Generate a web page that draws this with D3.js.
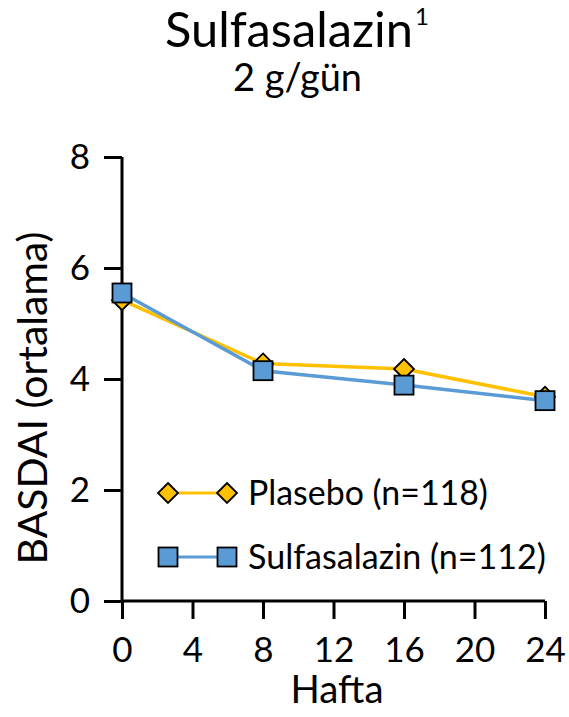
<!DOCTYPE html>
<html><head><meta charset="utf-8">
<script src="https://cdn.jsdelivr.net/npm/d3@7"></script>
<style>body{margin:0;background:#fff}svg{display:block}text{font-family:Lato,"Open Sans",sans-serif;fill:#000}</style>
</head><body>
<script>
const weeks = [0, 8, 16, 24];
const placebo = [5.42, 4.28, 4.18, 3.68];
const sulfasalazine = [5.55, 4.15, 3.89, 3.61];
const xTicks = [0, 4, 8, 12, 16, 20, 24];
const yTicks = [0, 2, 4, 6, 8];
const seriesNames = ["Plasebo (n=118)", "Sulfasalazin (n=112)"];
const title = "Sulfasalazin", titleSup = "1", subtitle = "2 g/gün";
const xLabel = "Hafta", yLabel = "BASDAI (ortalama)";

const W = 569, H = 717;
const svg = d3.select("body").append("svg").attr("width", W).attr("height", H);
const x = d3.scaleLinear().domain([0, 24]).range([122, 545]);
const y = d3.scaleLinear().domain([0, 8]).range([601, 157]);

function fit(t, w) { const l = t.node().getComputedTextLength(); const fs = parseFloat(t.attr("font-size")); t.attr("font-size", fs * w / l); }

// title
const tt = svg.append("text").attr("x", 165).attr("y", 47).attr("font-size", 44).text(title);
fit(tt, 248);
svg.append("text").attr("x", 415).attr("y", 25).attr("font-size", 24).text(titleSup);
const st = svg.append("text").attr("x", 233).attr("y", 91).attr("font-size", 34).text(subtitle);
fit(st, 129);

// axes
const xa = svg.append("g").attr("transform", "translate(0,601)")
  .call(d3.axisBottom(x).tickValues(xTicks).tickSize(18).tickPadding(18).tickFormat(d3.format("d")));
const ya = svg.append("g").attr("transform", "translate(122,0)")
  .call(d3.axisLeft(y).tickValues(yTicks).tickSize(18).tickPadding(14).tickFormat(d3.format("d")));
[xa, ya].forEach(a => {
  a.select(".domain").attr("stroke", "#000").attr("stroke-width", 3);
  a.selectAll(".tick line").attr("stroke", "#000").attr("stroke-width", 3);
  a.selectAll(".tick text").attr("font-size", 35).attr("font-family", "Lato").attr("fill", "#000");
});
xa.select(".domain").attr("d", `M${x(0)},0H${x(24)}`);
ya.select(".domain").attr("d", `M0,${y(0)}V${y(8)}`);

const xl = svg.append("text").attr("x", 337).attr("y", 703).attr("text-anchor", "middle").attr("font-size", 36).text(xLabel);
fit(xl, 93);
const yl = svg.append("text").attr("transform", "translate(47,398) rotate(-90)").attr("text-anchor", "middle").attr("font-size", 36).text(yLabel);
fit(yl, 333);

const line = d3.line().x((d, i) => x(weeks[i])).y(d => y(d));
const colors = ["#FFC000", "#5B9BD5"];

function drawDiamond(g, cx, cy, r) {
  g.append("path").attr("d", `M${cx},${cy - r}L${cx + r},${cy}L${cx},${cy + r}L${cx - r},${cy}Z`)
    .attr("fill", colors[0]).attr("stroke", "#000").attr("stroke-width", 1.8);
}
function drawSquare(g, cx, cy, s) {
  g.append("rect").attr("x", cx - s / 2).attr("y", cy - s / 2).attr("width", s).attr("height", s)
    .attr("fill", colors[1]).attr("stroke", "#000").attr("stroke-width", 1.8);
}

const gp = svg.append("g");
gp.append("path").attr("d", line(placebo)).attr("fill", "none").attr("stroke", colors[0]).attr("stroke-width", 3.5);
const gs = svg.append("g");
gs.append("path").attr("d", line(sulfasalazine)).attr("fill", "none").attr("stroke", colors[1]).attr("stroke-width", 3.5);
placebo.forEach((v, i) => drawDiamond(gp, x(weeks[i]), y(v), 10));
sulfasalazine.forEach((v, i) => drawSquare(gs, x(weeks[i]), y(v), 19));

// legend
const lg = svg.append("g");
const ly = [493, 557];
lg.append("line").attr("x1", 168).attr("x2", 227).attr("y1", ly[0]).attr("y2", ly[0]).attr("stroke", colors[0]).attr("stroke-width", 3);
drawDiamond(lg, 168, ly[0], 10); drawDiamond(lg, 227, ly[0], 10);
lg.append("line").attr("x1", 168).attr("x2", 227).attr("y1", ly[1]).attr("y2", ly[1]).attr("stroke", colors[1]).attr("stroke-width", 3);
drawSquare(lg, 168, ly[1], 19); drawSquare(lg, 227, ly[1], 19);
const l1 = lg.append("text").attr("x", 248).attr("y", ly[0]).attr("dy", "0.36em").attr("font-size", 30).text(seriesNames[0]);
fit(l1, 240);
const l2 = lg.append("text").attr("x", 248).attr("y", ly[1]).attr("dy", "0.36em").attr("font-size", 30).text(seriesNames[1]);
fit(l2, 298);
</script>
</body></html>
